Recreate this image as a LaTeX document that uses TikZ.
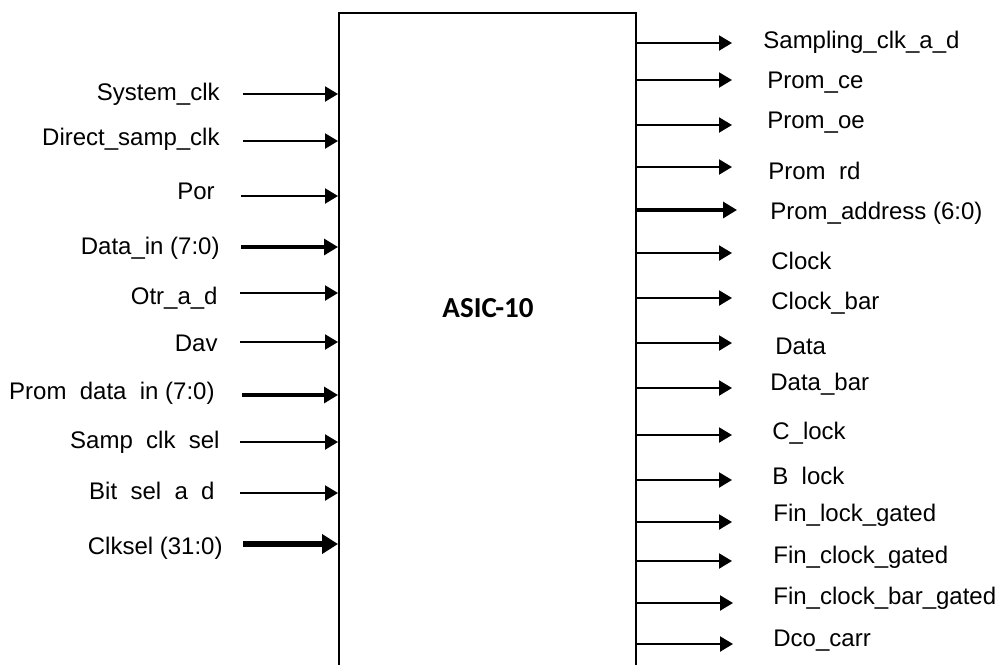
\documentclass[tikz,border=0pt]{standalone}
\usepackage{fontspec}
\setmainfont{Liberation Sans}
\newfontfamily\calib{Carlito}
\usetikzlibrary{arrows.meta}
\begin{document}
\begin{tikzpicture}[x=0.5pt,y=-0.5pt,
  sig/.style={line width=1.1pt,-{Triangle[length=6.5pt,width=7.5pt]}},
  bus/.style={line width=1.6pt,-{Triangle[length=7pt,width=8pt]}},
  wbus/.style={line width=2.6pt,-{Triangle[length=8pt,width=9.5pt]}},
  lbl/.style={inner sep=0pt,font=\fontsize{12}{14}\selectfont},
  block/.style={draw,line width=0.8pt,inner sep=0pt,anchor=north west,minimum width=148.5pt,minimum height=400pt}]
\useasboundingbox (0,0) rectangle (998,665);
\node[block] (asic) at (338,12) {};
\node[font=\calib\bfseries\fontsize{14.5}{16}\selectfont] (title) at (488,308) {ASIC-10};
% inputs: label-right-x / label-y / arrow-y / start-x / style / text
\foreach \n/\lx/\ly/\ay/\sx/\st/\t in {
  1/220/95/94/243/sig/System\_clk,
  2/220/140/141/243/sig/Direct\_samp\_clk,
  3/215/194/196/241/sig/Por,
  4/220/249/247/241/bus/Data\_in (7:0),
  5/218/299/293/240/sig/Otr\_a\_d,
  6/218/346/342/240/sig/Dav,
  7/215/394/395/242/bus/Prom\ \ data\ \ in (7:0),
  8/220/443/442/240/sig/Samp\ \ clk\ \ sel,
  9/215/494/493/240/sig/Bit\ \ sel\ \ a\ \ d,
  10/223/549/544/243/wbus/Clksel (31:0)}{
  \node[lbl,anchor=mid east] (in\n) at (\lx,\ly) {\t};
  \coordinate (is\n) at (\sx,\ay);
  \draw[\st] (is\n) -- (is\n -| asic.west);
}
% outputs: arrow-y / end-x / label-x / label-y / style / text
\foreach \n/\ay/\ex/\lx/\ly/\st/\t in {
  1/43/732/763/43/sig/Sampling\_clk\_a\_d,
  2/80/732/767/83/sig/Prom\_ce,
  3/125/732/767/123/sig/Prom\_oe,
  4/167/732/768/174/sig/Prom\ \ rd,
  5/210/737/770/214/bus/Prom\_address (6:0),
  6/253/732/771/264/sig/Clock,
  7/298/732/771/304/sig/Clock\_bar,
  8/343/732/775/349/sig/Data,
  9/388/732/770/385/sig/Data\_bar,
  10/435/732/772/434/sig/C\_lock,
  11/480/732/772/479/sig/B\ \ lock,
  12/522/732/773/516/sig/Fin\_lock\_gated,
  13/561/732/773/558/sig/Fin\_clock\_gated,
  14/603/733/773/599/sig/Fin\_clock\_bar\_gated,
  15/644/733/773/641/sig/Dco\_carr}{
  \node[lbl,anchor=mid west] (out\n) at (\lx,\ly) {\t};
  \coordinate (oe\n) at (\ex,\ay);
  \draw[\st] (oe\n -| asic.east) -- (oe\n);
}
\end{tikzpicture}
\end{document}
